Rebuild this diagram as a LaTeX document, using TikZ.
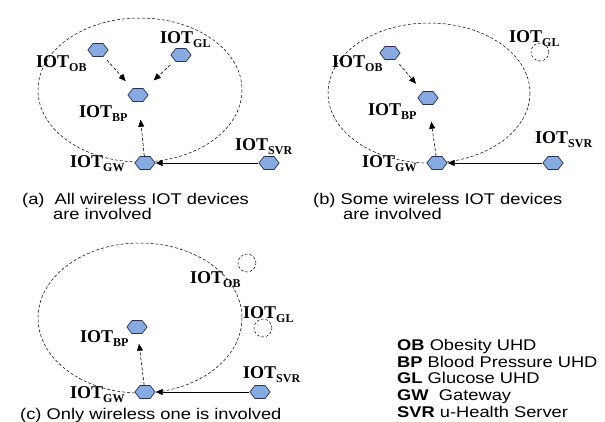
\documentclass[tikz,border=0pt]{standalone}
\usepackage{fontspec}
\setmainfont{Liberation Serif}
\setsansfont{Liberation Sans}
\usetikzlibrary{shapes.geometric,arrows.meta}

\definecolor{hexfill}{RGB}{135,170,225}
\definecolor{hexline}{RGB}{40,50,90}

\newcommand{\iotlab}[1]{IOT\raisebox{-4pt}{\fontsize{12}{12}\selectfont #1}}

\tikzset{
  device/.style={regular polygon, regular polygon sides=6, minimum size=15pt, inner sep=0pt,
    xscale=1.35, draw=hexline, fill=hexfill, line width=0.7pt},
  absent/.style={circle, minimum size=18pt, inner sep=0pt, draw, dash pattern=on 2.5pt off 2pt, line width=0.5pt},
  iot/.style={anchor=base west, inner sep=0pt, font=\fontsize{18}{18}\selectfont\bfseries},
  capt/.style={anchor=base west, inner sep=0pt, xscale=1.18, font=\sffamily\fontsize{15.5}{16}\selectfont},
  wless/.style={-{Triangle[length=7pt,width=6pt]}, dash pattern=on 3pt off 2pt, line width=0.6pt},
  wired/.style={-{Triangle[length=7pt,width=6pt]}, line width=0.6pt},
  zone/.style={dash pattern=on 3pt off 2pt, line width=0.5pt}
}

\begin{document}
\begin{tikzpicture}[x=1pt,y=1pt,yscale=-1]
    \fill[white] (0,0) rectangle (605,421);
    \useasboundingbox (0,0) rectangle (605,421);

    %%%%% (a) all devices
    %Shape: Ellipse
    \draw[zone] (140,90) ellipse [x radius=102, y radius=72];
    %Shape: Hexagons
    \node[device] (obA) at (98,50) {};
    \node[device] (glA) at (181,55) {};
    \node[device] (bpA) at (138,95) {};
    \node[device] (gwA) at (145,163) {};
    \node[device] (svrA) at (269,163) {};
    %Straight Lines
    \draw[wless, shorten <=5pt, shorten >=10pt] (obA) -- (bpA);
    \draw[wless, shorten <=6pt, shorten >=13pt] (glA) -- (bpA);
    \draw[wless, shorten >=18pt] (gwA) -- (bpA);
    \draw[wired] (svrA) -- (gwA);
    % Text Node
    \node[iot] (obAl) at (36,67) {\iotlab{OB}};
    \node[iot] (glAl) at (160,43) {\iotlab{GL}};
    \node[iot] (bpAl) at (79,117) {\iotlab{BP}};
    \node[iot] (gwAl) at (70,167) {\iotlab{GW}};
    \node[iot] (svrAl) at (235,150) {\iotlab{SVR}};
    \node[capt] (capA1) at (22,204) {(a)\ \ All wireless IOT devices};
    \node[capt] (capA2) at (53,219) {are involved};

    %%%%% (b) some devices
    %Shape: Ellipse
    \draw[zone] (429,93) ellipse [x radius=101, y radius=70];
    %Shape: Hexagons
    \node[device] (obB) at (390,53) {};
    \node[absent] (glB) at (540,52) {};
    \node[device] (bpB) at (428,98) {};
    \node[device] (gwB) at (437,163) {};
    \node[device] (svrB) at (553,163) {};
    %Straight Lines
    \draw[wless, shorten <=6pt, shorten >=10pt] (obB) -- (bpB);
    \draw[wless, shorten >=17pt] (gwB) -- (bpB);
    \draw[wired] (svrB) -- (gwB);
    % Text Node
    \node[iot] (obBl) at (332,67) {\iotlab{OB}};
    \node[iot] (glBl) at (509,42) {\iotlab{GL}};
    \node[iot] (bpBl) at (368,115) {\iotlab{BP}};
    \node[iot] (gwBl) at (362,167) {\iotlab{GW}};
    \node[iot] (svrBl) at (535,143) {\iotlab{SVR}};
    \node[capt] (capB1) at (313,204) {(b) Some wireless IOT devices};
    \node[capt] (capB2) at (343,219) {are involved};

    %%%%% (c) only wireless one
    %Shape: Ellipse
    \draw[zone] (140,318) ellipse [x radius=102, y radius=75];
    %Shape: Hexagons
    \node[absent] (obC) at (247,263) {};
    \node[absent] (glC) at (263,328) {};
    \node[device] (bpC) at (137,327) {};
    \node[device] (gwC) at (145,392) {};
    \node[device] (svrC) at (260,392) {};
    %Straight Lines
    \draw[wless, shorten >=10pt] (gwC) -- (bpC);
    \draw[wired] (svrC) -- (gwC);
    % Text Node
    \node[iot] (obCl) at (190,283) {\iotlab{OB}};
    \node[iot] (glCl) at (243,318) {\iotlab{GL}};
    \node[iot] (bpCl) at (80,342) {\iotlab{BP}};
    \node[iot] (gwCl) at (70,398) {\iotlab{GW}};
    \node[iot] (svrCl) at (243,378) {\iotlab{SVR}};
    \node[capt] (capC) at (20,419) {(c) Only wireless one is involved};

    %%%%% legend
    \node[capt] (keyOB) at (397,350) {\textbf{OB} Obesity UHD};
    \node[capt] (keyBP) at (397,367) {\textbf{BP} Blood Pressure UHD};
    \node[capt] (keyGL) at (397,383) {\textbf{GL} Glucose UHD};
    \node[capt] (keyGW) at (397,400) {\textbf{GW}\ \ Gateway};
    \node[capt] (keySVR) at (397,417) {\textbf{SVR} u-Health Server};

\end{tikzpicture}
\end{document}
